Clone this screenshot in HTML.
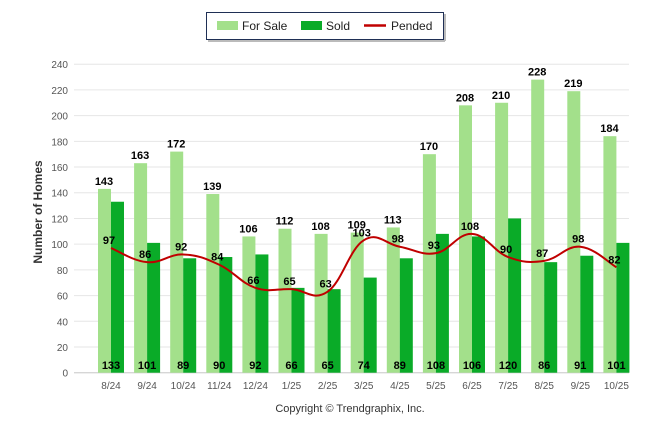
<!DOCTYPE html>
<html><head><meta charset="utf-8"><style>
body{margin:0;background:#fff;font-family:"Liberation Sans",sans-serif}
svg text{font-family:"Liberation Sans",sans-serif}
</style></head><body>
<svg id="c" width="646" height="434">
<g>
<rect x="206.5" y="12.5" width="237" height="27" fill="#fff" stroke="#1f2f55" stroke-width="1"/>
<line x1="208" y1="41" x2="445" y2="41" stroke="#bbb" stroke-width="2"/>
<line x1="445" y1="14" x2="445" y2="41" stroke="#bbb" stroke-width="2"/>
<rect x="217" y="21" width="21" height="9" fill="#a3e08b"/>
<text x="242" y="30" font-size="12" fill="#222">For Sale</text>
<rect x="301" y="21" width="21" height="9" fill="#0aab28"/>
<text x="326" y="30" font-size="12" fill="#222">Sold</text>
<line x1="364" y1="25.5" x2="386" y2="25.5" stroke="#c00000" stroke-width="2.5"/>
<text x="391" y="30" font-size="12" fill="#222">Pended</text>
</g>
<text transform="translate(42,212) rotate(-90)" text-anchor="middle" font-size="12" font-weight="bold" fill="#333">Number of Homes</text>
<text x="350" y="412" text-anchor="middle" font-size="11" fill="#333">Copyright © Trendgraphix, Inc.</text>
<g id="grid"></g><g id="bars"></g><g id="line"></g><g id="labels"></g>
</svg>
<script>
const categories=["8/24","9/24","10/24","11/24","12/24","1/25","2/25","3/25","4/25","5/25","6/25","7/25","8/25","9/25","10/25"];
const forSale=[143,163,172,139,106,112,108,109,113,170,208,210,228,219,184];
const sold=[133,101,89,90,92,66,65,74,89,108,106,120,86,91,101];
const pended=[97,86,92,84,66,65,63,103,98,93,108,90,87,98,82];
const yTicks=[0,20,40,60,80,100,120,140,160,180,200,220,240];
const NS="http://www.w3.org/2000/svg";
const y=v=>372.7-v*(308.5/240);
const xc=i=>111+i*36.1;
function mk(tag,attrs,parent,txt){const e=document.createElementNS(NS,tag);for(const k in attrs)e.setAttribute(k,attrs[k]);if(txt!=null)e.textContent=txt;document.getElementById(parent).appendChild(e);return e;}
yTicks.forEach(t=>{
 const l=mk('line',{x1:74,x2:629,y1:y(t),y2:y(t),stroke:'#e6e6e6'},'grid');
 
 
 const tx=mk('text',{x:68,y:y(t)+4,'text-anchor':'end','font-size':'10',fill:'#555'},'grid',t);
 
 
});
categories.forEach((c,i)=>{
 const tx=mk('text',{x:xc(i),y:389,'text-anchor':'middle','font-size':'10',fill:'#555'},'grid',c);
 
 
 const b1=mk('rect',{x:xc(i)-13,y:y(forSale[i]),width:13,height:y(0)-y(forSale[i]),fill:'#a3e08b'},'bars');
 
 
 const b2=mk('rect',{x:xc(i),y:y(sold[i]),width:13,height:y(0)-y(sold[i]),fill:'#0aab28'},'bars');
 
 
 const l1=mk('text',{x:xc(i)-7,y:y(forSale[i])-4,'text-anchor':'middle','font-size':'11','font-weight':'bold',fill:'#000'},'labels',forSale[i]);
 
 
 const l2=mk('text',{x:xc(i),y:369,'text-anchor':'middle','font-size':'11','font-weight':'bold',fill:'#000'},'labels',sold[i]);
 
 
 const l3=mk('text',{x:xc(i)-2,y:y(pended[i])-4,'text-anchor':'middle','font-size':'11','font-weight':'bold',fill:'#000'},'labels',pended[i]);
 
 
});
const ax=mk('line',{x1:74,x2:629,y1:y(0),y2:y(0),stroke:'#ccc'},'grid');


const pts=pended.map((v,i)=>[xc(i),y(v)]);
let d=`M${pts[0][0]},${pts[0][1]}`;
for(let i=0;i<pts.length-1;i++){
 const p0=pts[Math.max(0,i-1)],p1=pts[i],p2=pts[i+1],p3=pts[Math.min(pts.length-1,i+2)];
 const t=0.2;
 d+=` C${p1[0]+(p2[0]-p0[0])*t},${p1[1]+(p2[1]-p0[1])*t} ${p2[0]-(p3[0]-p1[0])*t},${p2[1]-(p3[1]-p1[1])*t} ${p2[0]},${p2[1]}`;
}
const pl=mk('path',{d:d,fill:'none',stroke:'#c00000','stroke-width':2},'line');


</script>
</body></html>
